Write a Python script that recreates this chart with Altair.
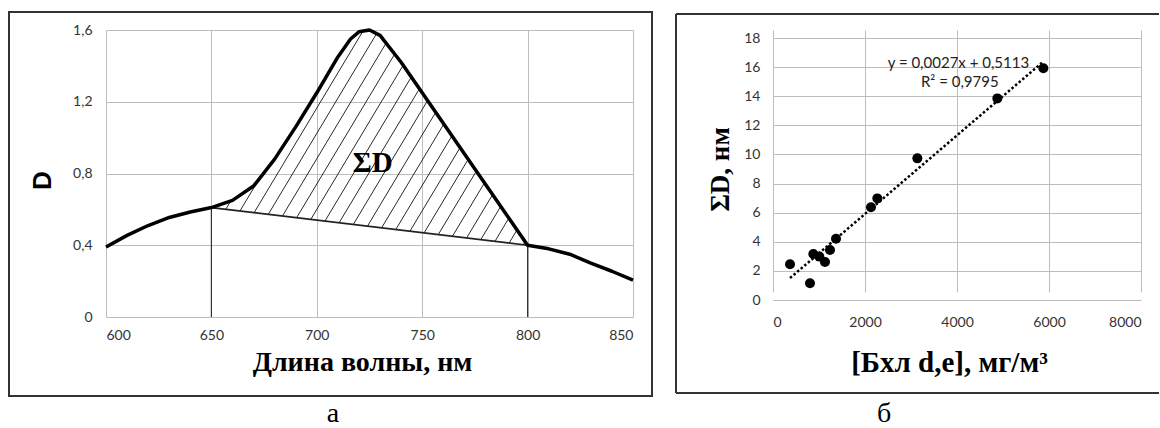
import altair as alt
import numpy as np
import pandas as pd

# ---- Panel а: absorption spectrum -------------------------------------
wavelength = [600, 610, 620, 630, 640, 650, 660, 670, 680, 690, 700, 710, 716,
              720, 725, 730, 740, 750, 760, 770, 780, 790, 800, 810, 820, 830,
              840, 850]
absorbance = [0.39, 0.455, 0.51, 0.555, 0.585, 0.61, 0.65, 0.73, 0.88, 1.06,
              1.25, 1.45, 1.55, 1.59, 1.60, 1.57, 1.42, 1.25, 1.08, 0.91, 0.74,
              0.57, 0.40, 0.38, 0.35, 0.30, 0.255, 0.205]
band_edges = [650, 800]
wl_ticks = [600, 650, 700, 750, 800, 850]
d_ticks = [0, 0.4, 0.8, 1.2, 1.6]

# ---- Panel б: calibration ---------------------------------------------
chl_conc = [370, 804, 877, 1007, 1130, 1239, 1370, 2130, 2268, 3138, 4877, 5877]
sum_d = [2.45, 1.15, 3.16, 2.98, 2.61, 3.43, 4.21, 6.37, 6.98, 9.73, 13.85, 15.92]
fit_slope = 0.0027
fit_intercept = 0.5113
fit_r2 = 0.9795
conc_ticks = [0, 2000, 4000, 6000, 8000]
sum_ticks = list(range(0, 20, 2))

GRID = "#bdbdbd"
FRAME = "#333333"
SERIF = "Liberation Serif"

spec = pd.DataFrame({"wl": wavelength, "d": absorbance})
edge_d = [float(np.interp(w, wavelength, absorbance)) for w in band_edges]
edges = pd.DataFrame({"wl": band_edges, "d": edge_d, "zero": [0, 0]})


def baseline(w):
    return edge_d[0] + (edge_d[1] - edge_d[0]) * (w - band_edges[0]) / (band_edges[1] - band_edges[0])


# diagonal hatching of the band area between the spectrum and its baseline
tilt = 51.0      # nm of wavelength per unit of D along a hatch line
step = 7.2       # nm between neighbouring hatch lines
ds = np.linspace(0, 1.7, 3401)
rows = []
for c in np.arange(619.0, 781.0, step):
    w = c + tilt * ds
    inside = ((w >= band_edges[0]) & (w <= band_edges[1])
              & (ds >= baseline(w)) & (ds <= np.interp(w, wavelength, absorbance)))
    idx = np.where(inside)[0]
    if len(idx) > 1:
        rows.append({"w1": w[idx[0]], "d1": ds[idx[0]], "w2": w[idx[-1]], "d2": ds[idx[-1]]})
hatch = pd.DataFrame(rows)

one = pd.DataFrame({"k": [0]})

xa = alt.Scale(domain=[600, 850], nice=False)
ya = alt.Scale(domain=[0, 1.6], nice=False)

x_axis_a = alt.Axis(values=wl_ticks, title="Длина волны, нм", titleFont=SERIF,
                    titleFontSize=28, titleFontWeight="bold", titleColor="black",
                    titleX=256, titleY=45, titleBaseline="middle", titleAlign="center",
                    labelPadding=11)
y_axis_a = alt.Axis(values=d_ticks, title="D", titleFont="Liberation Sans",
                    titleFontSize=26, titleFontWeight="bold", titleColor="black",
                    titleAngle=270, titleX=-64, titleY=150, titleAlign="center",
                    titleBaseline="middle", labelPadding=14,
                    labelExpr="datum.value == 0 ? '0' : replace(format(datum.value, '.1f'), '.', ',')")


def xy_a(xf, yf):
    return dict(x=alt.X(xf, scale=xa, axis=x_axis_a), y=alt.Y(yf, scale=ya, axis=y_axis_a))


frame_a = alt.Chart(one).mark_rect(fillOpacity=0, stroke=FRAME, strokeWidth=2).encode(
    x=alt.value(-97), x2=alt.value(546), y=alt.value(-18), y2=alt.value(366))
edge_rules = alt.Chart(edges).mark_rule(color="#333333", strokeWidth=1.2).encode(
    **xy_a("wl:Q", "zero:Q"), y2="d:Q")
hatch_rules = alt.Chart(hatch).mark_rule(color="#111111", strokeWidth=0.9).encode(
    **xy_a("w1:Q", "d1:Q"), x2="w2:Q", y2="d2:Q")
base_line = alt.Chart(edges).mark_line(color="#222222", strokeWidth=1.6).encode(
    **xy_a("wl:Q", "d:Q"))
curve = alt.Chart(spec).mark_line(color="black", strokeWidth=3.5, strokeJoin="round").encode(
    **xy_a("wl:Q", "d:Q"))
sigma_label = alt.Chart(pd.DataFrame({"wl": [726.5], "d": [0.86], "t": ["ΣD"]})).mark_text(
    font=SERIF, fontSize=29, fontWeight="bold", color="black").encode(
    **xy_a("wl:Q", "d:Q"), text="t:N")
letter_a = alt.Chart(one).mark_text(text="а", font=SERIF, fontSize=28, color="black",
                                    baseline="alphabetic").encode(
    x=alt.value(227), y=alt.value(392))

left = alt.layer(frame_a, edge_rules, hatch_rules, base_line, curve,
                 sigma_label, letter_a).properties(width=527, height=287)

# ---- Panel б ----
calib = pd.DataFrame({"c": chl_conc, "s": sum_d})
fit_x = [min(chl_conc), max(chl_conc)]
fit = pd.DataFrame({"c": fit_x, "s": [fit_slope * v + fit_intercept for v in fit_x]})
eq_txt = pd.DataFrame({
    "c": [4030, 4060],
    "s": [16.28, 14.98],
    "t": [f"y = {fit_slope:.4f}x + {fit_intercept:.4f}".replace(".", ","),
          f"R² = {fit_r2:.4f}".replace(".", ",")],
})

xb = alt.Scale(domain=[0, 8000], nice=False)
# plotting range starts 8 px below the panel's top so the two panels keep their own offsets
yb = alt.Scale(domain=[0, 18], nice=False, range=[270, 8])
x_axis_b = alt.Axis(values=conc_ticks, format="d", title="[Бхл d,e], мг/м³",
                    titleFont=SERIF, titleFontSize=29, titleFontWeight="bold",
                    titleColor="black", titleX=176, titleY=62, titleBaseline="middle",
                    titleAlign="center", labelPadding=15)
y_axis_b = alt.Axis(values=sum_ticks, title="ΣD, нм", titleFont=SERIF,
                    titleFontSize=27, titleFontWeight="bold", titleColor="black",
                    titleAngle=270, titleX=-53, titleY=139, titleAlign="center",
                    titleBaseline="middle", labelPadding=13)


def xy_b(xf, yf):
    return dict(x=alt.X(xf, scale=xb, axis=x_axis_b), y=alt.Y(yf, scale=yb, axis=y_axis_b))


frame_b_top = alt.Chart(one).mark_rule(color=FRAME, strokeWidth=2).encode(
    x=alt.value(-97), x2=alt.value(386), y=alt.value(-16))
frame_b_bottom = alt.Chart(one).mark_rule(color=FRAME, strokeWidth=2).encode(
    x=alt.value(-97), x2=alt.value(386), y=alt.value(363))
frame_b_left = alt.Chart(one).mark_rule(color=FRAME, strokeWidth=2).encode(
    x=alt.value(-97), y=alt.value(-16), y2=alt.value(363))
trend = alt.Chart(fit).mark_line(color="black", strokeWidth=2.5, strokeDash=[2.5, 2.2]).encode(
    **xy_b("c:Q", "s:Q"))
points = alt.Chart(calib).mark_circle(color="black", opacity=1, size=100).encode(
    **xy_b("c:Q", "s:Q"))
eq = alt.Chart(eq_txt).mark_text(font="Lato", fontSize=15, color="#222222").encode(
    **xy_b("c:Q", "s:Q"), text="t:N")
letter_b = alt.Chart(one).mark_text(text="б", font=SERIF, fontSize=28, color="black",
                                    baseline="alphabetic").encode(
    x=alt.value(111), y=alt.value(392))

right = alt.layer(frame_b_top, frame_b_bottom, frame_b_left, trend, points, eq,
                  letter_b).properties(width=368, height=270)

chart = alt.hconcat(left, right, spacing=22).properties(
    padding={"left": 8, "top": 11, "right": 0, "bottom": 0},
    background="white",
).configure_view(
    strokeWidth=0
).configure_axis(
    grid=True, gridColor=GRID, gridWidth=1, domain=False, ticks=False,
    labelFont="Lato", labelFontSize=14, labelColor="#333333"
)

chart.save("out.html", embed_options={"renderer": "svg", "actions": False})
